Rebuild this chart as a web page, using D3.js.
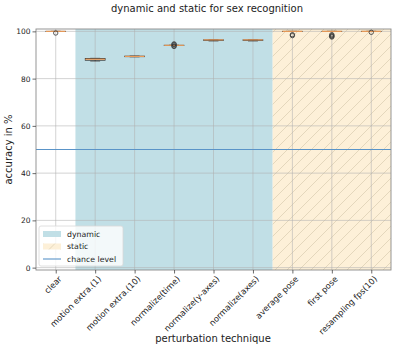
<!DOCTYPE html>
<html>
<head>
<meta charset="utf-8">
<script src="https://cdn.jsdelivr.net/npm/d3@7"></script>
<style>
  body { margin: 0; background: #fff; }
  svg { font-family: "DejaVu Sans", sans-serif; }
</style>
</head>
<body>
<div class="chart"></div>
<script>

// DATA ------------------------------------
const categories = ["clear", "motion extra.(1)", "motion extra.(10)", "normalize(time)",
  "normalize(y-axes)", "normalize(axes)", "average pose", "first pose", "resampling fps(10)"];
const q1s      = [100, 87.8, 89.3, 94.1, 96.2, 96.2, 100, 100, 100];
const medians  = [100, 88.2, 89.4, 94.1, 96.4, 96.4, 100, 100, 100];
const q3s      = [100, 88.5, 89.5, 94.1, 96.4, 96.4, 100, 100, 100];
const whiskLo  = [100, 87.4, 89.2, 94.1, 95.9, 95.9, 100, 100, 100];
const whiskHi  = [100, 88.6, 89.6, 94.1, 96.5, 96.5, 100, 100, 100];
const outliers = [[99.3], [], [], [93.6, 93.9, 94.4, 94.7], [], [], [98.6, 98.2], [98.6, 98.2, 97.9, 97.6], [99.6]];
const yTicks = [0, 20, 40, 60, 80, 100];
const chance = 50;
const dynamicSpan = [1.5, 6.5];
const staticSpan = [6.5, 9.5];

// CHART INIT ------------------------------
const W = 395, H = 349;
const margin = {top: 29, right: 4, bottom: 79, left: 36};
const width = W - margin.left - margin.right;
const height = H - margin.top - margin.bottom;

const svg = d3.select(".chart").append("svg")
  .attr("width", W)
  .attr("height", H);

const defs = svg.append("defs");
const pat = defs.append("pattern")
  .attr("id", "hatch")
  .attr("patternUnits", "userSpaceOnUse")
  .attr("width", 12)
  .attr("height", 12);
pat.append("rect").attr("width", 12).attr("height", 12).attr("fill", "#fdf0d8");
pat.append("path")
  .attr("d", "M-1,1 l2,-2 M0,12 l12,-12 M11,13 l2,-2")
  .attr("stroke", "#d3c6aa")
  .attr("stroke-width", 0.6);

const g = svg.append("g")
  .attr("transform", `translate(${margin.left},${margin.top})`);

const xScale = d3.scaleLinear().domain([0.5, 9.5]).range([0, width]);
const yScale = d3.scaleLinear().domain([-1, 101]).range([height, 0]);

// spans
g.append("rect")
  .attr("x", xScale(dynamicSpan[0]))
  .attr("width", xScale(dynamicSpan[1]) - xScale(dynamicSpan[0]))
  .attr("y", 0).attr("height", height)
  .attr("fill", "#c1dfe6");
g.append("rect")
  .attr("x", xScale(staticSpan[0]))
  .attr("width", xScale(staticSpan[1]) - xScale(staticSpan[0]))
  .attr("y", 0).attr("height", height)
  .attr("fill", "url(#hatch)");

// grid
g.selectAll(".vgrid").data(categories).enter()
  .append("line").attr("class", "vgrid")
  .attr("x1", (d, i) => xScale(i + 1)).attr("x2", (d, i) => xScale(i + 1))
  .attr("y1", 0).attr("y2", height)
  .attr("stroke", "#b0b0b0").attr("stroke-opacity", 0.7).attr("stroke-width", 0.8);
g.selectAll(".hgrid").data(yTicks).enter()
  .append("line").attr("class", "hgrid")
  .attr("x1", 0).attr("x2", width)
  .attr("y1", d => yScale(d)).attr("y2", d => yScale(d))
  .attr("stroke", "#b0b0b0").attr("stroke-opacity", 0.7).attr("stroke-width", 0.8);

// chance level
g.append("line")
  .attr("x1", 0).attr("x2", width)
  .attr("y1", yScale(chance)).attr("y2", yScale(chance))
  .attr("stroke", "#5a94c8").attr("stroke-width", 1.1);

// boxplots
const bw = xScale(1.25) - xScale(1);
const boxes = g.selectAll(".box").data(categories).enter()
  .append("g").attr("class", "box")
  .attr("transform", (d, i) => `translate(${xScale(i + 1)},0)`);

boxes.append("line")
  .attr("y1", (d, i) => yScale(whiskLo[i])).attr("y2", (d, i) => yScale(q1s[i]))
  .attr("stroke", "#333").attr("stroke-width", 0.8);
boxes.append("line")
  .attr("y1", (d, i) => yScale(q3s[i])).attr("y2", (d, i) => yScale(whiskHi[i]))
  .attr("stroke", "#333").attr("stroke-width", 0.8);
boxes.append("line")
  .attr("x1", -bw / 2).attr("x2", bw / 2)
  .attr("y1", (d, i) => yScale(whiskLo[i])).attr("y2", (d, i) => yScale(whiskLo[i]))
  .attr("stroke", "#555").attr("stroke-width", 0.8);
boxes.append("line")
  .attr("x1", -bw / 2).attr("x2", bw / 2)
  .attr("y1", (d, i) => yScale(whiskHi[i])).attr("y2", (d, i) => yScale(whiskHi[i]))
  .attr("stroke", "#555").attr("stroke-width", 0.8);
boxes.append("rect")
  .attr("x", -bw).attr("width", 2 * bw)
  .attr("y", (d, i) => yScale(q3s[i]))
  .attr("height", (d, i) => Math.max(0.01, yScale(q1s[i]) - yScale(q3s[i])))
  .attr("fill", "none").attr("stroke", "#333").attr("stroke-width", 0.9);
boxes.append("line")
  .attr("x1", -bw).attr("x2", bw)
  .attr("y1", (d, i) => yScale(medians[i])).attr("y2", (d, i) => yScale(medians[i]))
  .attr("stroke", "#f5a05a").attr("stroke-width", 1.1);
boxes.selectAll(".flier").data((d, i) => outliers[i]).enter()
  .append("circle").attr("class", "flier")
  .attr("cx", 0).attr("cy", d => yScale(d)).attr("r", 2.2)
  .attr("fill", "none").attr("stroke", "#333").attr("stroke-width", 0.8);

// frame
g.append("rect")
  .attr("width", width).attr("height", height)
  .attr("fill", "none").attr("stroke", "#8a8a8a").attr("stroke-width", 0.9);

// axes
const yAxis = d3.axisLeft(yScale).tickValues(yTicks).tickSize(3.5).tickPadding(2);
const ya = g.append("g").attr("class", "y-axis").call(yAxis);
const xAxis = d3.axisBottom(xScale).tickValues(d3.range(1, 10)).tickSize(3.5).tickFormat("");
const xa = g.append("g").attr("class", "x-axis")
  .attr("transform", `translate(0,${height})`).call(xAxis);
[ya, xa].forEach(a => {
  a.select(".domain").remove();
  a.selectAll(".tick line").attr("stroke", "#444").attr("stroke-width", 0.8);
  a.selectAll("text").attr("font-size", 7.5).attr("fill", "#222")
    .attr("font-family", "DejaVu Sans");
});

g.selectAll(".xlab").data(categories).enter()
  .append("text").attr("class", "xlab")
  .attr("transform", (d, i) => `translate(${xScale(i + 1) + 3},${height + 6}) rotate(-45)`)
  .attr("text-anchor", "end")
  .attr("dy", "0.6em")
  .attr("font-size", 8.3).attr("fill", "#222")
  .text(d => d);

// titles
svg.append("text")
  .attr("x", 207).attr("y", 12)
  .attr("text-anchor", "middle")
  .attr("font-size", 10).attr("fill", "#222")
  .text("dynamic and static for sex recognition");
svg.append("text")
  .attr("x", 213).attr("y", 342)
  .attr("text-anchor", "middle")
  .attr("font-size", 10).attr("fill", "#222")
  .text("perturbation technique");
svg.append("text")
  .attr("transform", `translate(12,${margin.top + height / 2}) rotate(-90)`)
  .attr("text-anchor", "middle")
  .attr("font-size", 10).attr("fill", "#222")
  .text("accuracy in %");

// legend
const leg = g.append("g").attr("transform", `translate(3,${height - 44})`);
leg.append("rect")
  .attr("width", 84).attr("height", 40).attr("rx", 2)
  .attr("fill", "#fff").attr("fill-opacity", 0.8)
  .attr("stroke", "#d8d8d8").attr("stroke-width", 0.8);
const legItems = [
  {label: "dynamic", kind: "dyn"},
  {label: "static", kind: "stat"},
  {label: "chance level", kind: "line"}
];
const li = leg.selectAll(".li").data(legItems).enter()
  .append("g").attr("class", "li")
  .attr("transform", (d, i) => `translate(4,${5 + i * 12.5})`);
li.filter(d => d.kind === "dyn").append("rect")
  .attr("width", 18).attr("height", 6).attr("fill", "#c1dfe6");
li.filter(d => d.kind === "stat").append("rect")
  .attr("width", 18).attr("height", 6).attr("fill", "url(#hatch)");
li.filter(d => d.kind === "line").append("line")
  .attr("x1", 0).attr("x2", 18).attr("y1", 3).attr("y2", 3)
  .attr("stroke", "#5a94c8").attr("stroke-width", 1.1);
li.append("text")
  .attr("x", 24).attr("y", 3).attr("dy", "0.35em")
  .attr("font-size", 7.8).attr("fill", "#222")
  .text(d => d.label);

</script>
</body>
</html>
